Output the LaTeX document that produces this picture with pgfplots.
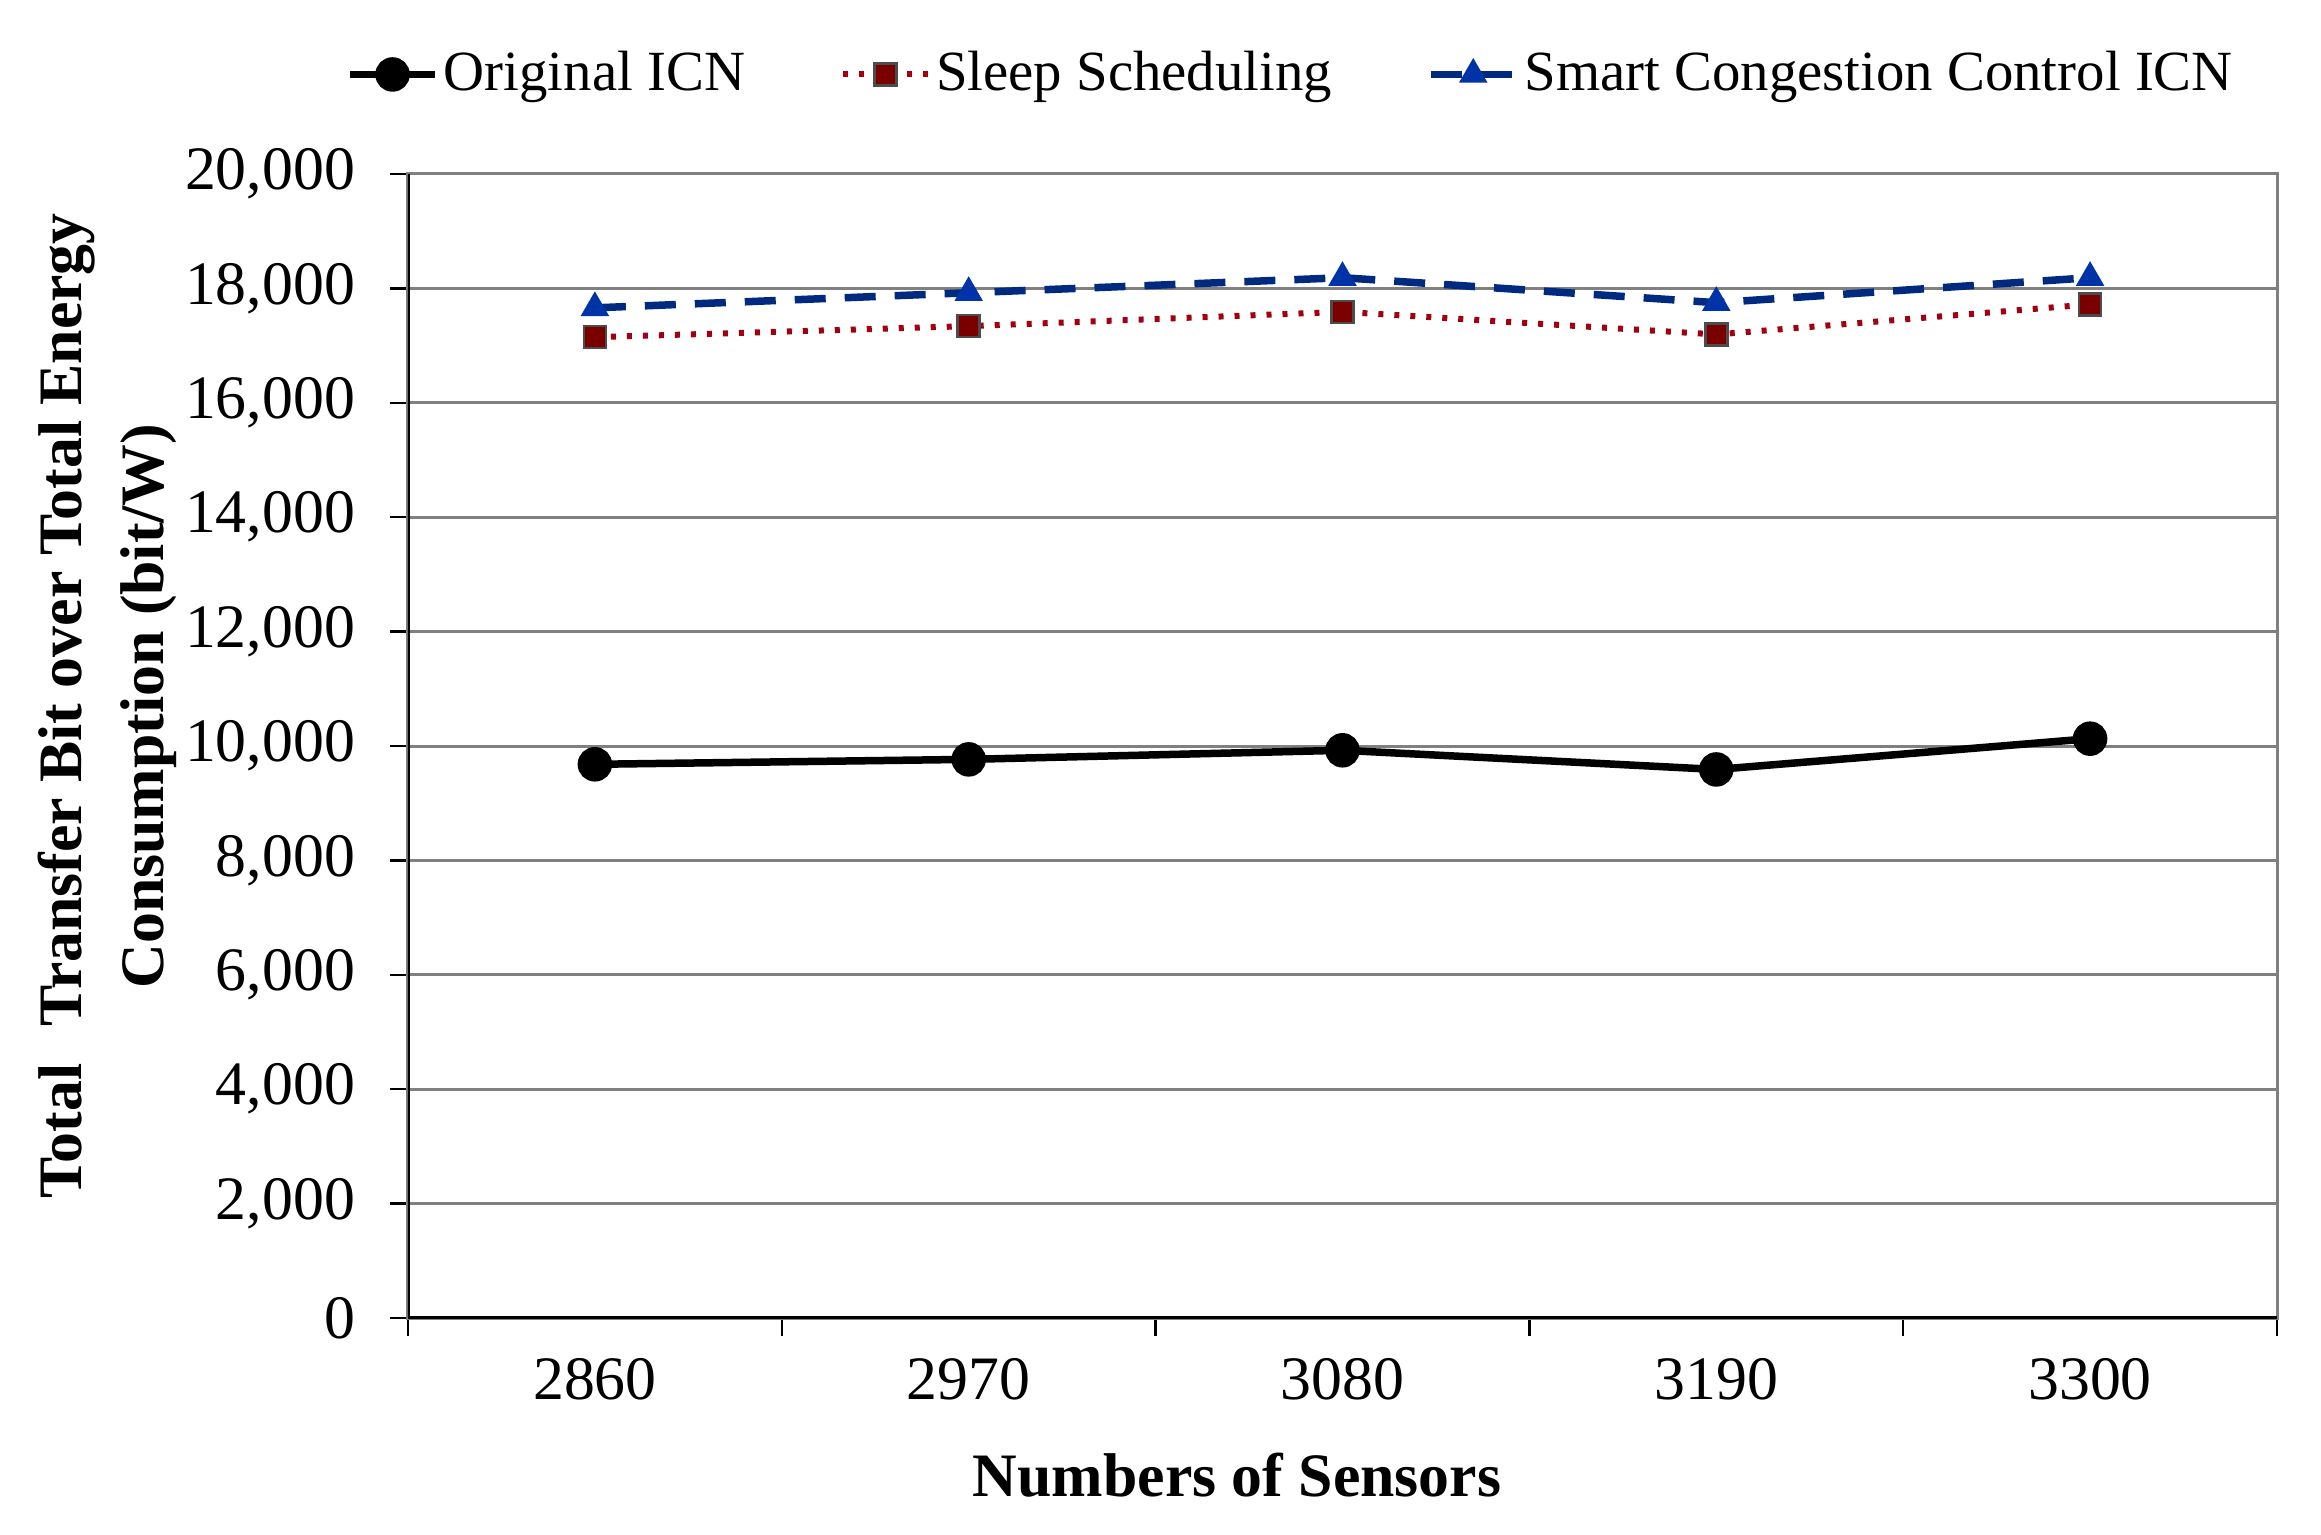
\documentclass[border=0pt]{standalone}
\usepackage{fontspec}
\setmainfont{Liberation Serif}
\usepackage{pgfplots}
\pgfplotsset{compat=1.18}
\definecolor{sleepred}{HTML}{7A0000}
\definecolor{sleepdot}{HTML}{A00010}
\definecolor{smartblue}{HTML}{002A80}
\definecolor{smarttri}{HTML}{0033A8}
\definecolor{gridgray}{HTML}{808080}

\pgfplotstableread{
x y
0 9680
1 9766
2 9925
3 9590
4 10128
}\orig
\pgfplotstableread{
x y
0 17147
1 17340
2 17590
3 17195
4 17720
}\sleep
\pgfplotstableread{
x y
0 17660
1 17924
2 18187
3 17750
4 18187
}\smart

\begin{document}
\begin{tikzpicture}
\useasboundingbox (-81.6bp,-43.4bp) rectangle (382.6bp,263.6bp);
\begin{axis}[
  at={(0,0)}, anchor=south west,
  scale only axis,
  width=373.8bp, height=228.8bp,
  xmin=-0.5, xmax=4.5, ymin=0, ymax=20000,
  xtick={0,...,4}, xticklabels={2860,2970,3080,3190,3300},
  minor xtick={-0.5,0.5,...,4.5},
  ytick={0,2000,...,20000},
  scaled y ticks=false,
  /pgf/number format/.cd, 1000 sep={,}, assume math mode=true, /pgfplots/.cd,
  tick align=outside,
  major tick length=3.6bp, minor tick length=3.6bp,
  major x tick style={draw=none},
  xtick pos=bottom, ytick pos=left,
  tick style={black, line width=0.5bp},
  ymajorgrids,
  grid style={gridgray, line width=0.6bp},
  axis line style={gridgray, line width=0.6bp},
  tick label style={font=\fontsize{12.4}{14}\selectfont},
  xticklabel style={yshift=-1bp},
  yticklabel style={xshift=-3.5bp},
  xlabel={\textbf{Numbers of Sensors}},
  xlabel style={at={(axis description cs:0.4436,-0.1375)}, anchor=center, font=\fontsize{12.4}{14}\selectfont},
  ylabel={\textbf{Total\hspace{0.6em}Transfer Bit over Total Energy}\\\textbf{Consumption (bit/W)}},
  ylabel style={at={(axis description cs:-0.161,0.535)}, anchor=center, align=center, font=\fontsize{12.4}{16.4}\selectfont},
  legend columns=3,
  legend style={at={(axis description cs:0.473,1.087)}, anchor=center, draw=none, fill=none,
    font=\fontsize{11.4}{13}\selectfont,
    /tikz/every even column/.append style={column sep=18bp},
    nodes={inner sep=1bp}},
]
\addplot[black, line width=1.5bp, mark=*, mark size=2.7bp, mark options={solid}] table[x=x,y=y] {\orig};
\addlegendentry{Original ICN}
\addplot[sleepdot, line width=1.2bp, dash pattern=on 1bp off 2.2bp, mark=square*, mark size=2.2bp,
  mark options={solid, fill=sleepred, draw=black!70, line width=0.5bp}] table[x=x,y=y] {\sleep};
\addlegendentry{Sleep Scheduling}
\addplot[smartblue, line width=1.5bp, dash pattern=on 6.2bp off 3.8bp, mark=triangle*, mark size=3bp,
  mark options={solid, fill=smarttri, draw=smarttri, line width=0.3bp}] table[x=x,y=y] {\smart};
\addlegendentry{Smart Congestion Control ICN}
\draw[black, line width=0.8bp] (rel axis cs:0,0) -- (rel axis cs:0,1);
\draw[black, line width=0.8bp] (rel axis cs:0,0) -- (rel axis cs:1,0);
\end{axis}
\end{tikzpicture}
\end{document}
